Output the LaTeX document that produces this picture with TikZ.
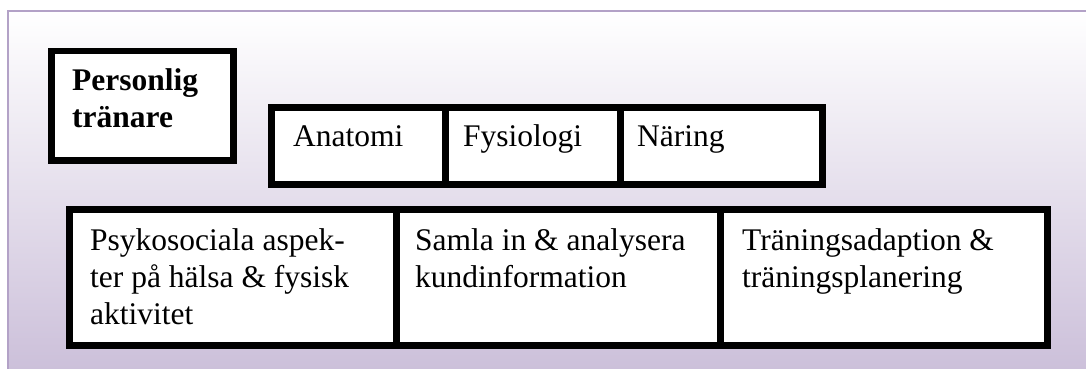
\documentclass[tikz,border=0pt]{standalone}
\usepackage{fontspec}
\setmainfont{Liberation Serif}
\definecolor{panelborder}{HTML}{B3A2C7}
\definecolor{paneltop}{HTML}{FFFFFF}
\definecolor{panelbottom}{HTML}{CCC0DA}
\tikzset{
  box/.style={draw=black, line width=6.5pt, fill=white, rectangle, inner sep=0pt, anchor=north west},
  txt/.style={anchor=north west, inner sep=0pt, align=left, font=\fontsize{31.5}{37}\selectfont},
}
\begin{document}
\begin{tikzpicture}[x=1pt, y=-1pt]
\useasboundingbox (0,0) rectangle (1086,369);
% background panel
\shade[top color=paneltop, bottom color=panelbottom] (8,11) rectangle (1086,369);
\draw[panelborder, line width=2.5pt] (8,369) -- (8,11) -- (1086,11);

% Personlig tränare
\node[box, minimum width=182pt, minimum height=109pt] (pt) at (48,48) {};
\node[txt] (ptt) at (72,64.1) {\strut\textbf{Personlig}\\\textbf{tränare}};

% row 2
\node[box, minimum width=174pt, minimum height=77pt] (ana) at (268,104) {};
\node[box, minimum width=175pt, minimum height=77pt] (fys) at (442,104) {};
\node[box, minimum width=202pt, minimum height=77pt] (nar) at (617,104) {};
\node[txt] (anat) at (293,120.1) {\strut Anatomi};
\node[txt] (fyst) at (463,120.1) {\strut Fysiologi};
\node[txt] (nart) at (637,120.1) {\strut Näring};

% row 3
\node[box, minimum width=327pt, minimum height=136pt] (psy) at (66,206) {};
\node[box, minimum width=324pt, minimum height=136pt] (sam) at (393,206) {};
\node[box, minimum width=327pt, minimum height=136pt] (tra) at (717,206) {};
\node[txt] (psyt) at (90,224.1) {\strut Psykosociala aspek-\\ter på hälsa \& fysisk\\aktivitet};
\node[txt] (samt) at (415,224.1) {\strut Samla in \& analysera\\kundinformation};
\node[txt] (trat) at (742,224.1) {\strut Träningsadaption \&\\träningsplanering};
\end{tikzpicture}
\end{document}
